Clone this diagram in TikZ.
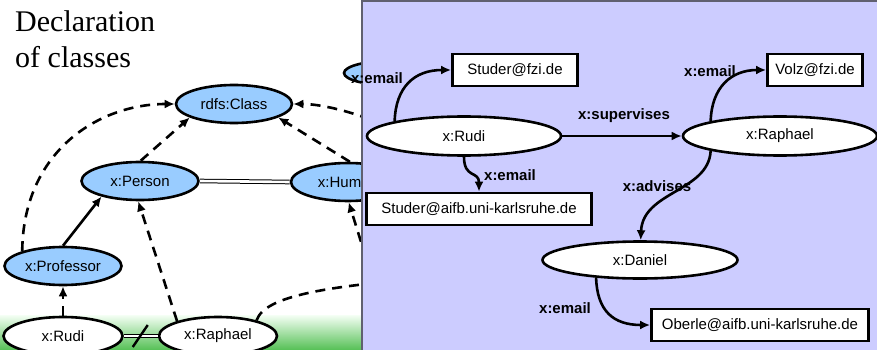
\documentclass[tikz,border=0pt]{standalone}
\usepackage{fontspec}
\setmainfont{Liberation Serif}
\newfontfamily\arialfont{Liberation Sans}
\usetikzlibrary{arrows.meta,shapes.geometric}
\definecolor{classblue}{HTML}{99CCFF}
\definecolor{panelfill}{HTML}{CCCCFF}
\definecolor{panelline}{HTML}{606070}
\definecolor{grassgreen}{HTML}{55C055}
\begin{document}
\begin{tikzpicture}[x=1pt,y=-1pt,
  every node/.style={font=\arialfont\fontsize{15}{18}\selectfont},
  clsnode/.style={ellipse, draw, line width=2.6pt, fill=classblue, inner sep=0pt,
    minimum width=117pt, minimum height=38pt},
  instnode/.style={ellipse, draw, line width=2.6pt, fill=white, inner sep=0pt,
    minimum width=119pt, minimum height=38pt},
  resnode/.style={ellipse, draw, line width=2.6pt, fill=white, inner sep=0pt,
    minimum width=194pt, minimum height=39pt},
  litnode/.style={rectangle, draw, line width=2.8pt, fill=white, inner sep=0pt,
    minimum height=32pt},
  dasharrow/.style={line width=2.6pt, dash pattern=on 10pt off 7pt,
    -{Latex[length=10pt,width=9pt]}},
  dashline/.style={line width=2.6pt, dash pattern=on 10pt off 7pt},
  solidarrow/.style={line width=2.6pt, -{Latex[length=10pt,width=9pt]}},
  sameas/.style={draw=black, line width=1pt, double=white, double distance=2.6pt},
  proplabel/.style={font=\arialfont\bfseries\fontsize{15}{18}\selectfont, inner sep=0pt},
  titletext/.style={font=\rmfamily\fontsize{30}{36}\selectfont, inner sep=0pt, anchor=base west},
]
\useasboundingbox (0,0) rectangle (877,350);
\clip (0,0) rectangle (877,350);
\fill[white] (0,0) rectangle (877,350);

% ---------- schema layer ----------
\shade[top color=green!4!white, bottom color=grassgreen] (0,315) rectangle (361,350);

\node[titletext] (title1) at (15,32) {Declaration};
\node[titletext] (title2) at (15,68) {of classes};

\node[clsnode, minimum width=116pt] (rdfscls) at (234,104) {rdfs:Class};
\node[clsnode] (person) at (140,181) {x:Person};
\node[clsnode, minimum width=114pt] (human) at (348,182) {x:Human};
\node[clsnode] (prof) at (63,266) {x:Professor};
\node[instnode] (lrudi) at (63,336) {x:Rudi};
\node[instnode, minimum width=118pt] (lraph) at (218,336) {x:Raphael};
\node[clsnode, minimum width=100pt, minimum height=25pt] (emailprop) at (394,73) {};

\coordinate (hidA) at (430,150);
\coordinate (hidB) at (430,278);
\coordinate (hidC) at (366,258);

\draw[dasharrow] (prof.160) .. controls +(1,-100) and +(-76,0) .. (rdfscls.west);
\draw[dasharrow] (person.88) -- (rdfscls.197);
\draw[dasharrow] (human.85) -- (rdfscls.343);
\draw[dasharrow] (hidA) .. controls +(-40,-28) and +(38,0) .. (rdfscls.east);
\draw[sameas] (person.east) -- (human.west);
\draw[solidarrow] (prof.north) -- (person.202);
\draw[dasharrow] (lrudi.north) -- (prof.south);
\draw[dasharrow] (lraph.160) -- (person.265);
\draw[dashline] (lraph.22) .. controls +(8,-25) and +(-100,8) .. (hidB);
\draw[dasharrow] (hidC) -- (human.272);
\draw[sameas] (lrudi.east) -- (lraph.west) coordinate[midway] (neq);
\draw[line width=2.4pt] (neq) ++(-8,11) -- ++(15,-22);

% ---------- data panel ----------
\draw[panelline, line width=2.5pt, fill=panelfill] (362,1) rectangle (900,400);

\node[litnode, minimum width=125pt] (sfzi) at (515,70) {Studer@fzi.de};
\node[resnode] (rrudi) at (464,136) {x:Rudi};
\node[litnode, minimum width=225pt] (saifb) at (479,209) {Studer@aifb.uni-karlsruhe.de};
\node[litnode, minimum width=95pt] (volz) at (815,70) {Volz@fzi.de};
\node[resnode] (rraph) at (780,136) {x:Raphael};
\node[resnode, minimum width=195pt, minimum height=37pt] (dan) at (640,260) {x:Daniel};
\node[litnode, minimum width=217pt] (oberle) at (760,325) {Oberle@aifb.uni-karlsruhe.de};

\draw[solidarrow] (rrudi.168) .. controls +(1,-34) and +(-37,0) .. (sfzi.west);
\draw[solidarrow] (rrudi.east) -- (rraph.west);
\draw[solidarrow] (rrudi.270) .. controls +(0,22) and +(0,-21) .. (saifb.north);
\draw[solidarrow] (rraph.168) .. controls +(1,-34) and +(-35,0) .. (volz.west);
\draw[solidarrow] (rraph.192) .. controls +(-2,41) and +(2,-49) .. (dan.88);
\draw[solidarrow] (dan.202) .. controls +(1,33) and +(-37,0) .. (oberle.west);

\node[proplabel] (lblA) at (377,78) {x:email};
\node[proplabel] (lblB) at (624,116) {x:supervises};
\node[proplabel] (lblC) at (510,175) {x:email};
\node[proplabel] (lblD) at (710,71) {x:email};
\node[proplabel] (lblE) at (657,186) {x:advises};
\node[proplabel] (lblF) at (565,308) {x:email};
\end{tikzpicture}
\end{document}
